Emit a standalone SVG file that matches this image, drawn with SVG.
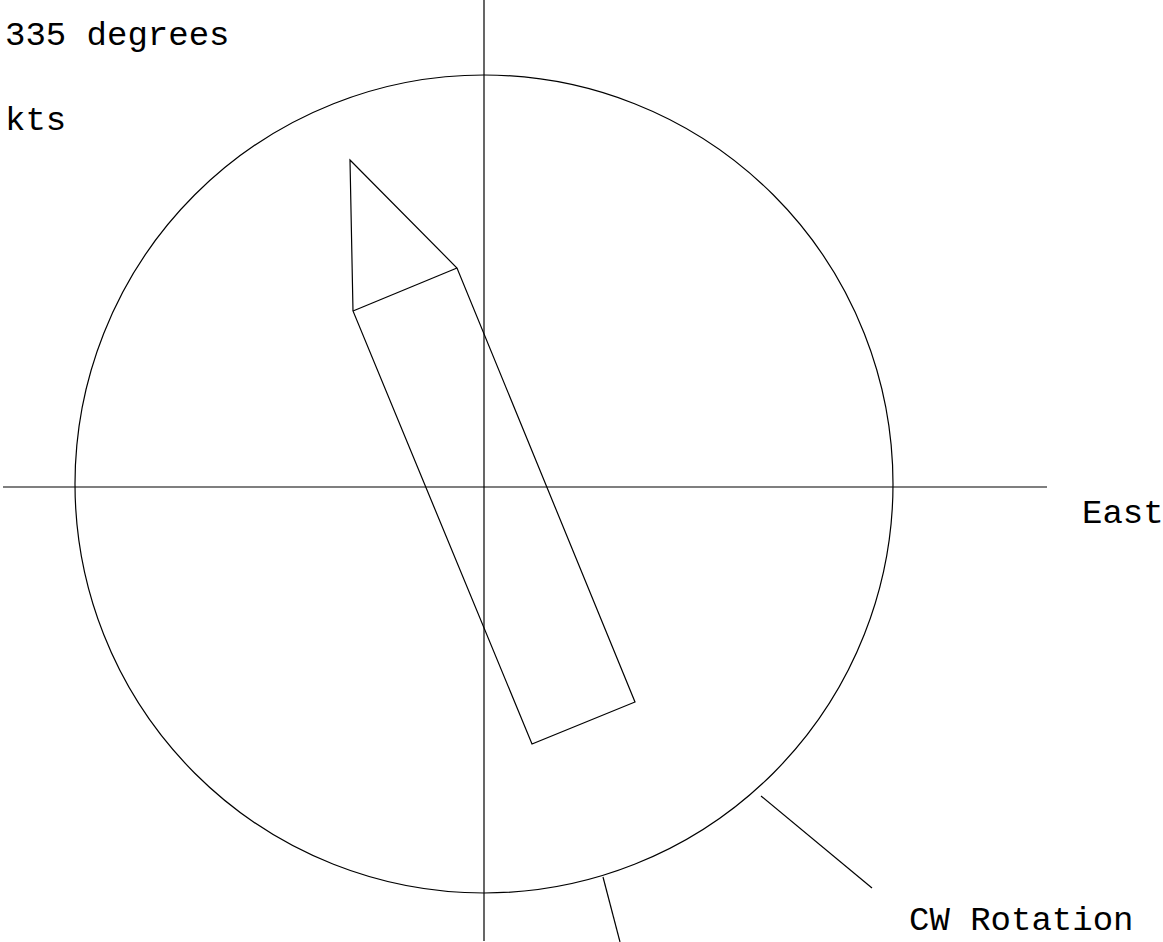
<svg xmlns="http://www.w3.org/2000/svg" width="1163" height="942" viewBox="0 0 1163 942">
<style>
.ln{stroke:#000;stroke-width:1.2;fill:none}
.tx{font-family:"Liberation Mono","Courier New",monospace;font-size:34px;fill:#000}
</style>
<rect width="1163" height="942" fill="#fff"/>
<g id="connectors">
<line class="ln" x1="484" y1="0" x2="484" y2="941"/>
<line class="ln" x1="3" y1="487" x2="1047" y2="487"/>
<line class="ln" x1="761" y1="796" x2="872" y2="888"/>
<line class="ln" x1="603" y1="877" x2="620" y2="942"/>
</g>
<g id="compass">
<circle class="ln" cx="484" cy="484" r="409"/>
</g>
<g id="ship">
<polygon class="ln" points="350,160 457,268 635,702 532,744 353,311"/>
<line class="ln" x1="353" y1="311" x2="457" y2="268"/>
</g>
<g id="labels">
<text class="tx" x="5" y="45">335 degrees</text>
<text class="tx" x="5" y="130">kts</text>
<text class="tx" x="1082" y="523">East</text>
<text class="tx" x="909" y="930">CW Rotation</text>
</g>
</svg>
